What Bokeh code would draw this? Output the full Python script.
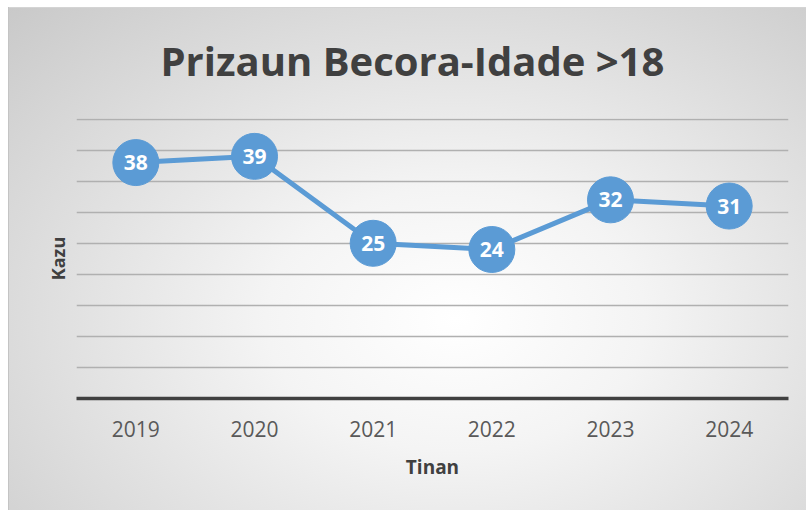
from bokeh.plotting import figure
from bokeh.models import Range1d, FixedTicker, ColumnDataSource, Title
from bokeh.core.properties import value
from bokeh.embed import file_html
from bokeh.resources import INLINE

years = ["2019", "2020", "2021", "2022", "2023", "2024"]
cases = [38, 39, 25, 24, 32, 31]
labels = [str(v) for v in cases]
grid_ticks = [0, 5, 10, 15, 20, 25, 30, 35, 40, 45]

src = ColumnDataSource(dict(x=years, y=cases, t=labels))

FONT = "Open Sans"
BLUE = "#5B9BD5"

p = figure(width=806, height=510, x_range=years, y_range=Range1d(0, 45.1),
           output_backend="svg", toolbar_location=None,
           min_border_left=76, min_border_right=18, min_border_top=118, min_border_bottom=112)
p.background_fill_alpha = 0
p.border_fill_alpha = 0
p.outline_line_color = None
p.styles = {
    "background": ("linear-gradient(#c4c4c4, #c4c4c4) 8px 7px / 1px 503px no-repeat, "
                   "linear-gradient(#d4d4d4, #d4d4d4) 8px 7px / 798px 1px no-repeat, "
                   "radial-gradient(ellipse at 56% 62%, #ffffff 0%, #f4f4f4 30%, #c9c9c9 100%) "
                   "9px 8px / 797px 502px no-repeat, #ffffff"),
}

p.add_layout(Title(text="Prizaun Becora-Idade >18", align="left", offset=84, text_font=FONT,
                   text_font_size="40px", text_font_style="bold", text_color="#404040",
                   standoff=61), "above")
p.add_layout(Title(text="Kazu", align="center", text_font=FONT,
                   text_font_size="18px", text_font_style="bold", text_color="#404040",
                   standoff=14), "left")

p.yaxis.visible = False
p.ygrid.ticker = FixedTicker(ticks=grid_ticks)

p.xaxis.axis_line_color = "#404040"
p.xaxis.axis_line_width = 3.5
p.xaxis.major_tick_line_color = None
p.xaxis.minor_tick_line_color = None
p.xaxis.major_label_text_font = FONT
p.xaxis.major_label_text_font_size = "21px"
p.xaxis.major_label_text_color = "#595959"
p.xaxis.major_label_standoff = 16
p.xaxis.axis_label = "Tinan"
p.xaxis.axis_label_text_font = FONT
p.xaxis.axis_label_text_font_size = "19px"
p.xaxis.axis_label_text_font_style = "bold"
p.xaxis.axis_label_text_color = "#404040"
p.xaxis.axis_label_standoff = 14

p.xgrid.grid_line_color = None
p.ygrid.grid_line_color = "#b0b0b0"
p.ygrid.grid_line_width = 1.5

p.line("x", "y", source=src, line_color=BLUE, line_width=5)
p.scatter("x", "y", source=src, size=46, fill_color=BLUE, line_color=BLUE)
p.text("x", "y", text="t", source=src, text_color="white", text_font=value(FONT),
       text_font_size="21px", text_font_style="bold", text_align="center", text_baseline="middle")

open("out.html", "w").write(file_html(p, INLINE))
